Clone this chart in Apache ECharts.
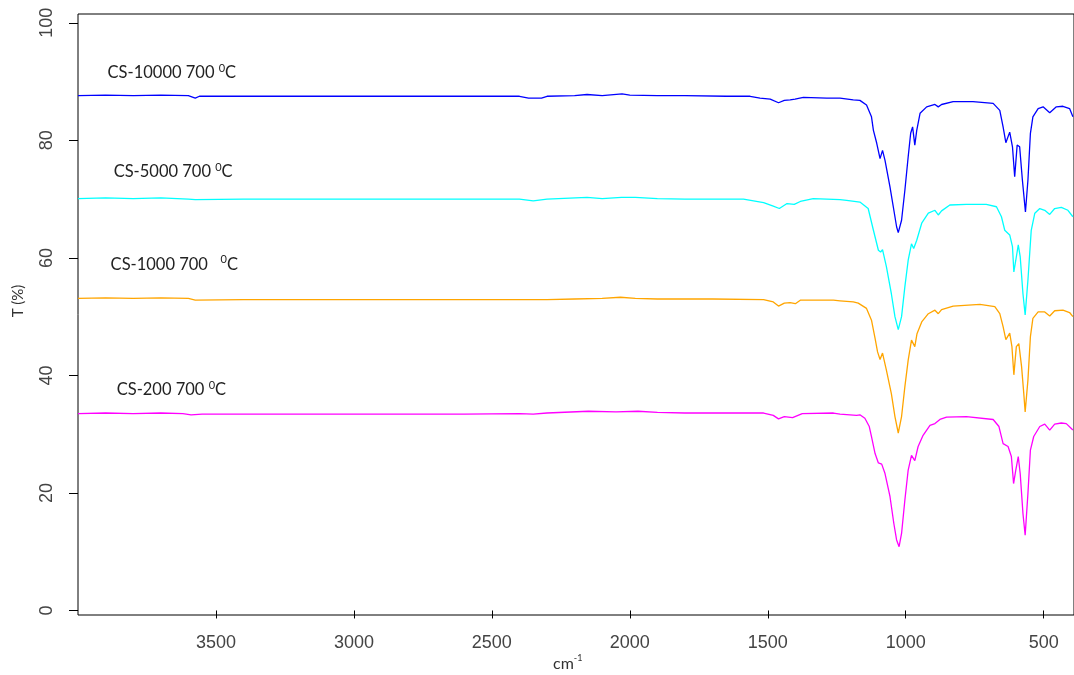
<!DOCTYPE html>
<html>
<head>
<meta charset="utf-8">
<script src="https://cdn.jsdelivr.net/npm/echarts@6/dist/echarts.min.js"></script>
<style>
  html, body { margin: 0; padding: 0; background: #fff; }
  #chart { width: 1074px; height: 675px; }
</style>
</head>
<body>
<div id="chart"></div>
<script>
// FTIR transmittance spectra, [wavenumber (cm-1), T (%)]
const cs10000 = [
  [4000,87.6],[3900,87.7],[3800,87.6],[3700,87.7],[3600,87.6],[3575,87.2],[3560,87.5],[3400,87.5],
  [3000,87.5],[2600,87.5],[2400,87.5],[2367,87.2],[2320,87.2],[2300,87.5],[2200,87.6],[2155,87.8],
  [2100,87.6],[2028,87.9],[2000,87.7],[1900,87.6],[1800,87.6],[1650,87.5],[1564,87.5],[1528,87.2],
  [1491,87.0],[1461,86.4],[1440,86.8],[1419,86.9],[1401,87.0],[1371,87.3],[1286,87.2],[1238,87.2],
  [1190,86.9],[1166,86.8],[1142,86.0],[1124,84.0],[1117,81.7],[1105,79.5],[1093,76.9],[1084,78.3],
  [1075,76.6],[1057,72.1],[1045,68.7],[1033,65.3],[1027,64.3],[1015,66.4],[1003,71.5],[991,77.2],
  [982,81.2],[975,82.3],[967,79.2],[960,81.7],[948,84.6],[924,85.7],[894,86.1],[882,85.7],
  [870,86.1],[828,86.6],[756,86.6],[683,86.3],[659,85.1],[647,82.3],[637,79.6],[623,81.4],
  [613,78.9],[605,73.8],[596,79.2],[587,78.9],[577,73.2],[566,67.8],[557,73.2],[548,81.2],
  [539,84.0],[520,85.4],[502,85.7],[478,84.7],[454,85.7],[430,85.8],[406,85.4],[394,84.0]
];
const cs5000 = [
  [4000,70.1],[3900,70.2],[3800,70.1],[3700,70.2],[3600,70.0],[3575,69.9],[3400,70.0],[3000,70.0],
  [2600,70.0],[2400,70.0],[2350,69.7],[2300,70.0],[2155,70.3],[2100,70.1],[2030,70.3],[1980,70.3],
  [1900,70.1],[1800,70.0],[1588,70.0],[1515,69.4],[1480,68.8],[1458,68.4],[1430,69.25],[1404,69.1],
  [1382,69.6],[1335,70.1],[1286,70.0],[1238,69.9],[1214,69.8],[1166,69.5],[1136,68.4],[1117,64.7],
  [1099,61.3],[1091,61.0],[1084,61.4],[1070,58.5],[1052,53.9],[1039,50.0],[1027,47.8],[1015,50.0],
  [1003,55.1],[991,59.6],[979,62.4],[971,61.6],[960,63.0],[942,65.9],[918,67.6],[894,68.1],
  [882,67.3],[870,68.0],[840,69.0],[780,69.1],[708,69.1],[671,68.7],[653,67.0],[641,64.7],
  [623,63.9],[613,61.9],[608,57.6],[601,59.6],[592,62.2],[585,60.2],[575,53.9],[567,50.3],
  [557,56.2],[545,64.7],[532,67.6],[514,68.4],[496,68.1],[478,67.4],[460,68.4],[436,68.6],
  [412,68.1],[394,67.0]
];
const cs1000 = [
  [4000,53.1],[3900,53.2],[3800,53.1],[3700,53.2],[3600,53.1],[3575,52.8],[3400,52.9],[3000,52.9],
  [2600,52.9],[2400,52.9],[2300,52.9],[2200,53.0],[2100,53.1],[2034,53.3],[1980,53.1],[1900,53.0],
  [1700,53.0],[1515,52.9],[1480,52.5],[1461,51.8],[1440,52.3],[1419,52.4],[1400,52.2],[1382,52.8],
  [1262,52.8],[1238,52.7],[1190,52.5],[1172,52.3],[1142,51.4],[1124,49.4],[1111,46.3],[1102,44.0],
  [1093,42.7],[1084,43.8],[1070,40.9],[1052,36.9],[1039,33.0],[1027,30.2],[1015,33.0],[1003,38.1],
  [991,42.6],[979,46.0],[967,44.9],[959,47.1],[942,49.1],[918,50.5],[894,51.1],[882,50.5],
  [870,51.2],[828,51.8],[731,52.1],[677,51.7],[659,50.5],[647,48.3],[637,46.1],[623,47.2],
  [615,44.9],[608,40.1],[599,44.9],[590,45.4],[580,41.5],[572,36.9],[567,33.8],[557,39.2],
  [548,46.6],[539,49.7],[520,50.8],[496,50.8],[478,50.1],[460,51.0],[430,51.1],[406,50.7],
  [394,50.0]
];
const cs200 = [
  [4000,33.5],[3900,33.6],[3800,33.5],[3700,33.6],[3620,33.5],[3590,33.3],[3550,33.4],[3400,33.4],
  [3000,33.4],[2600,33.4],[2400,33.5],[2350,33.4],[2300,33.6],[2150,33.9],[2050,33.8],[1970,33.9],
  [1900,33.7],[1800,33.6],[1600,33.6],[1515,33.6],[1480,33.2],[1461,32.6],[1440,33.0],[1410,32.8],
  [1375,33.5],[1262,33.6],[1238,33.4],[1178,33.2],[1166,33.3],[1148,32.7],[1132,31.3],[1124,29.6],
  [1111,26.7],[1099,25.1],[1087,24.9],[1075,23.3],[1057,19.4],[1043,14.8],[1033,12.0],[1024,10.85],
  [1015,13.1],[1003,18.8],[991,23.9],[979,26.4],[967,25.5],[955,27.9],[937,29.8],[912,31.5],
  [894,31.8],[876,32.5],[852,32.9],[780,33.0],[683,32.5],[662,31.3],[647,28.4],[629,27.9],
  [617,26.2],[609,21.6],[601,23.9],[592,26.2],[585,23.3],[575,16.5],[567,12.8],[557,19.9],
  [548,27.3],[536,29.6],[514,31.3],[496,31.7],[478,30.7],[460,31.7],[436,31.9],[418,31.8],
  [394,30.7]
];

const xTicks = [3500, 3000, 2500, 2000, 1500, 1000, 500];
const yTicks = [0, 20, 40, 60, 80, 100];

// sample name, spectrum, colour, label anchor (wavenumber, T)
const samples = [
  { name: 'CS-10000 700 ', data: cs10000, color: '#0000ff', at: [3891, 91.4] },
  { name: 'CS-5000 700 ',  data: cs5000,  color: '#00ffff', at: [3869, 74.6] },
  { name: 'CS-1000 700   ', data: cs1000, color: '#ffa500', at: [3880, 58.8] },
  { name: 'CS-200 700 ',   data: cs200,   color: '#ff00ff', at: [3858, 37.5] }
];

const chart = echarts.init(document.getElementById('chart'), null, { renderer: 'canvas' });

const tickFont = 'Liberation Sans, Arial, sans-serif';
const noteFont = 'Lato, Open Sans, sans-serif';

chart.setOption({
  animation: false,
  backgroundColor: '#ffffff',
  grid: {
    left: 78, right: -1, top: 14, bottom: 60,
    show: true, borderColor: '#000', borderWidth: 1, backgroundColor: 'transparent'
  },
  xAxis: {
    type: 'value',
    min: 390, max: 4000, inverse: true,
    splitLine: { show: false },
    axisLine: { show: false },
    axisTick: { show: true, length: 8, customValues: xTicks, lineStyle: { color: '#000', width: 1 } },
    axisLabel: {
      customValues: xTicks, margin: 19,
      formatter: v => String(v),
      color: '#444', fontSize: 18, fontFamily: tickFont
    }
  },
  yAxis: {
    type: 'value',
    min: -0.77, max: 101.5,
    splitLine: { show: false },
    axisLine: { show: false },
    axisTick: { show: true, length: 9, customValues: yTicks, lineStyle: { color: '#000', width: 1 } },
    axisLabel: {
      customValues: yTicks, rotate: 90, margin: 22,
      formatter: v => String(v),
      color: '#444', fontSize: 18, fontFamily: tickFont
    }
  },
  graphic: [
    {
      type: 'text', x: 18, y: 301, rotation: Math.PI / 2,
      style: { text: 'T (%)', fontSize: 15, fontFamily: noteFont, fill: '#333',
               align: 'center', verticalAlign: 'middle' }
    },
    {
      type: 'text', x: 553, y: 664,
      style: {
        text: '{m|cm}{s|-1}', fontFamily: noteFont, fill: '#333', verticalAlign: 'middle',
        rich: {
          m: { fontSize: 16, fontFamily: noteFont, fill: '#333', lineHeight: 20 },
          s: { fontSize: 9, fontFamily: noteFont, fill: '#333', verticalAlign: 'top' }
        }
      }
    }
  ],
  series: samples.map(s => ({
    type: 'line',
    name: s.name,
    data: s.data,
    showSymbol: false,
    smooth: false,
    lineStyle: { color: s.color, width: 1.3 },
    itemStyle: { color: s.color },
    markPoint: {
      silent: true,
      symbol: 'circle',
      symbolSize: 1,
      itemStyle: { color: 'rgba(0,0,0,0)' },
      data: [{
        coord: s.at,
        label: {
          show: true,
          position: [0, 0],
          align: 'left',
          verticalAlign: 'middle',
          formatter: '{a|' + s.name + '}{s|0}{a|C}',
          rich: {
            a: { fontSize: 16.5, fontFamily: noteFont, color: '#222', lineHeight: 20 },
            s: { fontSize: 11, fontFamily: noteFont, color: '#222', verticalAlign: 'top' }
          }
        }
      }]
    }
  }))
});
</script>
</body>
</html>
